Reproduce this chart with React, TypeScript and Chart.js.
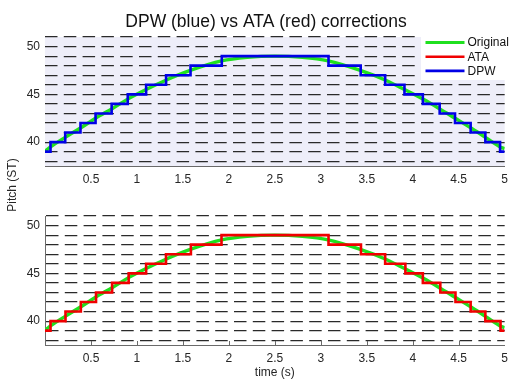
import React, { useEffect, useRef } from 'react';
import { Chart, registerables } from 'chart.js';

Chart.register(...registerables);

// ---------- data ----------
const xTickValues = [0.5, 1, 1.5, 2, 2.5, 3, 3.5, 4, 4.5, 5];
const yGridValues = [38, 39, 40, 41, 42, 43, 44, 45, 46, 47, 48, 49, 50, 51];
const yLabelValues = [40, 45, 50];

const origTime = [0, 0.06, 0.22, 0.39, 0.55, 0.73, 0.9, 1.1, 1.32, 1.58, 1.92, 2.2, 2.5, 2.8, 3.08, 3.43, 3.7, 3.91, 4.11, 4.29, 4.46, 4.63, 4.79, 4.95, 5.0];
const origPitch = [39.05, 39.5, 40.5, 41.5, 42.5, 43.5, 44.5, 45.5, 46.5, 47.5, 48.5, 48.87, 49.0, 48.87, 48.5, 47.5, 46.5, 45.5, 44.5, 43.5, 42.5, 41.5, 40.5, 39.5, 39.3];

const dpwTime = [0, 0.06, 0.22, 0.386, 0.55, 0.725, 0.9, 1.1, 1.317, 1.583, 1.923, 3.084, 3.434, 3.7, 3.91, 4.11, 4.293, 4.46, 4.63, 4.79, 4.95, 5.0];
const dpwPitch = [39, 40, 41, 42, 43, 44, 45, 46, 47, 48, 49, 48, 47, 46, 45, 44, 43, 42, 41, 40, 39, 39];

const ataTime = [0, 0.06, 0.223, 0.39, 0.555, 0.73, 0.91, 1.1, 1.316, 1.587, 1.92, 3.084, 3.437, 3.7, 3.92, 4.11, 4.3, 4.465, 4.63, 4.79, 4.955, 5.0];
const ataPitch = [39, 40, 41, 42, 43, 44, 45, 46, 47, 48, 49, 48, 47, 46, 45, 44, 43, 42, 41, 40, 39, 39];

const TITLE = 'DPW (blue) vs ATA (red) corrections';
const Y_LABEL = 'Pitch (ST)';
const X_LABEL = 'time (s)';
const legendLabels = ['Original', 'ATA', 'DPW'];

// ---------- styles ----------
const FONT = "'Liberation Sans', Arial, Helvetica, sans-serif";
const GREEN = '#1fe01f';
const RED = '#f00000';
const BLUE = '#0000e6';
const legendColors = [GREEN, RED, BLUE];
const TEXT = '#262626';
const AXIS = '#6a6a6a';
const GRID = '#2a2a2a';
const LAVENDER = '#eeeef9';

Chart.defaults.font.family = FONT;

const toXY = (xs: number[], ys: number[]) => xs.map((x, i) => ({ x, y: ys[i] }));

const topDecor = {
  id: 'topDecor',
  beforeDraw(chart: any) {
    const { ctx, chartArea: a } = chart;
    ctx.save();
    ctx.fillStyle = LAVENDER;
    ctx.fillRect(a.left, a.top, a.right - a.left, a.bottom - a.top);
    ctx.restore();
  },
  afterDraw(chart: any) {
    const { ctx, chartArea: a } = chart;
    ctx.save();
    // title
    ctx.fillStyle = '#111';
    ctx.font = `17.5px ${FONT}`;
    ctx.textAlign = 'center';
    ctx.textBaseline = 'middle';
    ctx.fillText(TITLE, 266, 22);
    // legend
    const bx = 421, by = a.top - 1, bw = a.right - bx + 1, bh = 44;
    ctx.fillStyle = '#ffffff';
    ctx.fillRect(bx, by, bw, bh);
    ctx.font = `12px ${FONT}`;
    ctx.textAlign = 'left';
    legendLabels.forEach((lab, i) => {
      const y = 42.5 + i * 14.2;
      ctx.strokeStyle = legendColors[i];
      ctx.lineWidth = i === 0 ? 3.2 : 2.6;
      ctx.beginPath();
      ctx.moveTo(425.5, y);
      ctx.lineTo(464.5, y);
      ctx.stroke();
      ctx.fillStyle = '#111';
      ctx.fillText(lab, 467.5, y + 0.5);
    });
    ctx.restore();
  },
};

const bottomDecor = {
  id: 'bottomDecor',
  afterDraw(chart: any) {
    const { ctx, chartArea: a, scales } = chart;
    ctx.save();
    ctx.strokeStyle = AXIS;
    ctx.lineWidth = 1;
    xTickValues.forEach((v) => {
      if (v >= 5) return;
      const x = Math.round(scales.x.getPixelForValue(v)) + 0.5;
      ctx.beginPath();
      ctx.moveTo(x, a.bottom);
      ctx.lineTo(x, a.bottom - 4);
      ctx.stroke();
    });
    ctx.fillStyle = TEXT;
    ctx.font = `12px ${FONT}`;
    ctx.textAlign = 'center';
    ctx.textBaseline = 'middle';
    ctx.translate(13, 185);
    ctx.rotate(-Math.PI / 2);
    ctx.fillText(Y_LABEL, 0, 0);
    ctx.restore();
  },
};

function makeConfig(isTop: boolean): any {
  const stepX = isTop ? dpwTime : ataTime;
  const stepY = isTop ? dpwPitch : ataPitch;
  return {
    type: 'line',
    data: {
      datasets: [
        {
          label: isTop ? 'DPW' : 'ATA',
          data: toXY(stepX, stepY),
          borderColor: isTop ? BLUE : RED,
          borderWidth: 2.6,
          stepped: 'before',
          pointRadius: 0,
          fill: false,
          order: 1,
        },
        {
          label: 'Original',
          data: toXY(origTime, origPitch),
          borderColor: GREEN,
          borderWidth: 3.4,
          cubicInterpolationMode: 'monotone',
          pointRadius: 0,
          fill: false,
          order: 2,
        },
      ],
    },
    options: {
      animation: false,
      responsive: false,
      events: [],
      layout: { padding: { top: isTop ? 37 : 216, right: 7, left: 0, bottom: 0 } },
      plugins: {
        legend: { display: false },
        tooltip: { enabled: false },
        title: { display: false },
      },
      scales: {
        x: {
          type: 'linear',
          min: 0,
          max: 5,
          afterBuildTicks: (s: any) => {
            s.ticks = xTickValues.map((v) => ({ value: v }));
          },
          afterFit: (s: any) => {
            s.height = isTop ? 213 : 34;
          },
          grid: { display: false, drawTicks: false },
          border: { display: true, color: AXIS, width: 1 },
          ticks: {
            padding: 6,
            color: TEXT,
            font: { size: 12 },
            maxRotation: 0,
            autoSkip: false,
            callback: (v: any) => String(Number(v)),
          },
          title: isTop
            ? { display: false }
            : { display: true, text: X_LABEL, color: TEXT, font: { size: 12 }, padding: { top: 0, bottom: -1 } },
        },
        y: {
          type: 'linear',
          min: 37.5,
          max: 51,
          afterBuildTicks: (s: any) => {
            s.ticks = yGridValues.map((v) => ({ value: v }));
          },
          afterFit: (s: any) => {
            s.width = 45;
          },
          grid: { display: true, drawTicks: false, color: GRID, lineWidth: 1.2 },
          border: { display: !isTop, color: AXIS, width: 1, dash: [12.5, 6.3] },
          ticks: {
            padding: 5,
            color: TEXT,
            font: { size: 12 },
            autoSkip: false,
            callback: (v: any) => (yLabelValues.includes(Number(v)) ? String(v) : ''),
          },
        },
      },
    },
    plugins: [isTop ? topDecor : bottomDecor],
  };
}

export default function App() {
  const topRef = useRef<HTMLCanvasElement>(null);
  const botRef = useRef<HTMLCanvasElement>(null);

  useEffect(() => {
    const top = new Chart(topRef.current as HTMLCanvasElement, makeConfig(true));
    const bot = new Chart(botRef.current as HTMLCanvasElement, makeConfig(false));
    return () => {
      top.destroy();
      bot.destroy();
    };
  }, []);

  return (
    <div style={{ position: 'fixed', left: 0, top: 0, width: 514, height: 379, background: '#fff' }}>
      <canvas ref={botRef} width={514} height={379} style={{ position: 'absolute', left: 0, top: 0 }} />
      <canvas ref={topRef} width={514} height={379} style={{ position: 'absolute', left: 0, top: 0 }} />
    </div>
  );
}
